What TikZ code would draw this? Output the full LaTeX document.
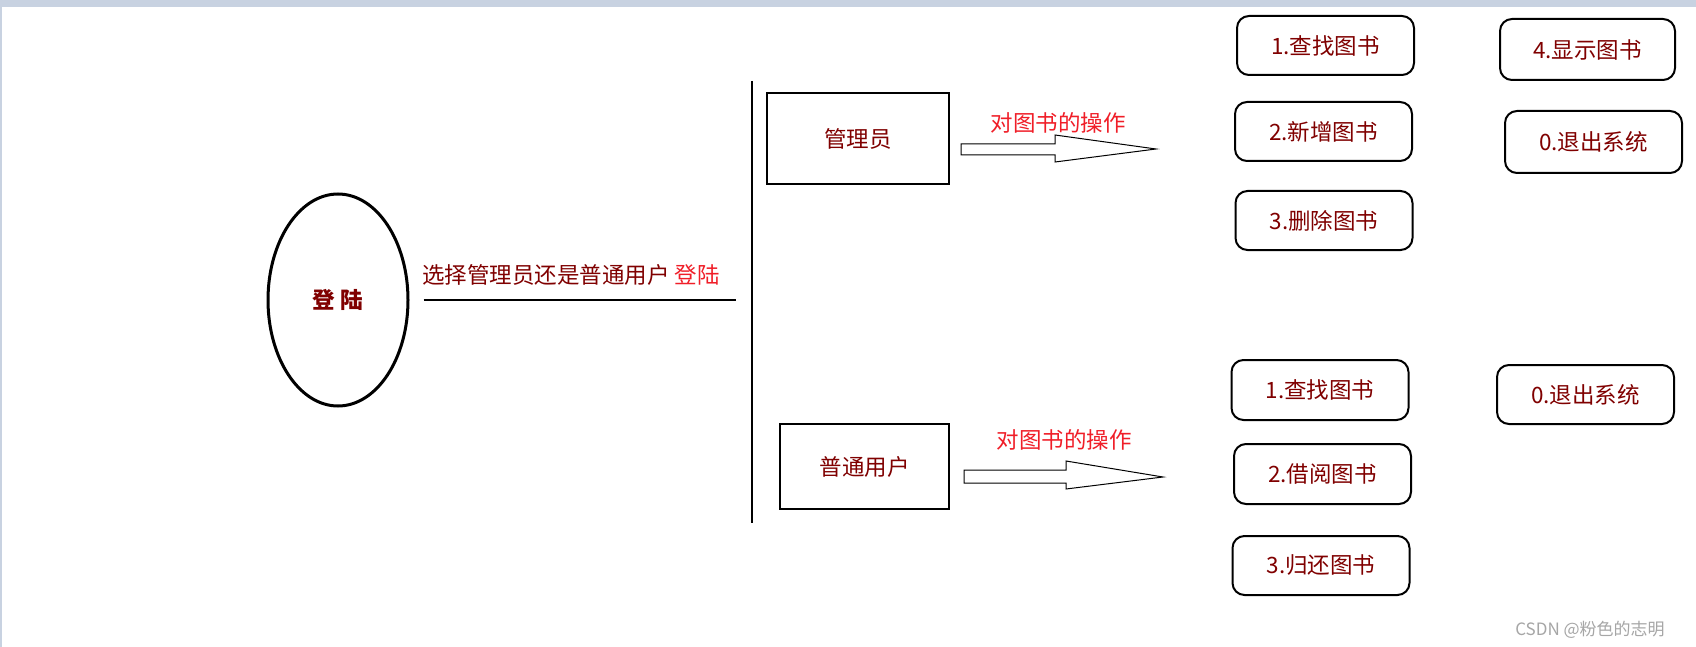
\documentclass[tikz,border=0pt]{standalone}
\usepackage{fontspec}
\setmainfont{Noto Sans CJK SC}
\usetikzlibrary{calc, shapes.geometric}
\definecolor{darkred}{RGB}{128,0,0}
\definecolor{litred}{RGB}{240,30,40}
\definecolor{frame}{RGB}{200,210,225}
\tikzset{
  menu/.style={draw, line width=2pt, rounded corners=12pt, minimum width=177pt,
               minimum height=59pt, text=darkred, font=\fontsize{22.5}{26}\selectfont},
  rolebox/.style={draw, line width=2pt, minimum width=170pt, minimum height=88pt,
               text=darkred, font=\fontsize{22.5}{26}\selectfont},
  optext/.style={text=litred, font=\fontsize{22.5}{26}\selectfont}
}
\begin{document}
\begin{tikzpicture}[x=1pt, y=-1pt]
\useasboundingbox (0, 0) rectangle (1696, 647);
\fill[white] (0, 0) rectangle (1696, 647);
\fill[frame] (0, 0) rectangle (1696, 7);
\fill[frame] (0, 0) rectangle (2, 647);

\node[draw, ellipse, line width=3pt, minimum width=140pt, minimum height=212pt,
      text=darkred, font=\bfseries\fontsize{22.5}{26}\selectfont] (login) at (338, 300) {登 陆};
\coordinate (split) at (736, 300);
\draw[line width=2pt] (login.east) ++(14, 0) -- (split);
\node[anchor=south, text=darkred, font=\fontsize{22.5}{26}\selectfont] at (571, 289)
     {选择管理员还是普通用户 \textcolor{litred}{登陆}};
\draw[line width=2.5pt] (752, 81) -- (752, 523);

\node[rolebox, minimum width=182pt, minimum height=91pt] (admin) at (858, 138.5) {管理员};
\node[rolebox, minimum width=169pt, minimum height=85pt] (user) at (864.5, 466.5) {普通用户};

% hollow arrows
\draw[line width=1pt] (961, 144) -- (1055, 144) -- (1055, 135) -- (1156, 149)
     -- (1055, 162) -- (1055, 155) -- (961, 155) -- cycle;
\node[optext] at (1058, 123) {对图书的操作};
\draw[line width=1pt] (964, 470) -- (1066, 470) -- (1066, 461) -- (1163, 477)
     -- (1066, 489) -- (1066, 483) -- (964, 483) -- cycle;
\node[optext] at (1064, 440) {对图书的操作};

% admin menu
\node[menu] (afind) at (1325.5, 45.5) {1.查找图书};
\node[menu] (aadd) at (1323.5, 131.5) {2.新增图书};
\node[menu] (adel) at (1324, 220.5) {3.删除图书};
\node[menu, minimum width=175pt, minimum height=61pt] (ashow) at (1587.5, 49.5) {4.显示图书};
\node[menu, minimum height=62pt] (aexit) at (1593.5, 142) {0.退出系统};

% user menu
\node[menu, minimum height=60pt] (ufind) at (1320, 390) {1.查找图书};
\node[menu, minimum height=60pt] (uborrow) at (1322.5, 474) {2.借阅图书};
\node[menu] (ureturn) at (1321, 565.5) {3.归还图书};
\node[menu] (uexit) at (1585.5, 394.5) {0.退出系统};

\node[text=gray!70, font=\fontsize{17}{20}\selectfont] at (1590, 630) {CSDN @粉色的志明};
\end{tikzpicture}
\end{document}
